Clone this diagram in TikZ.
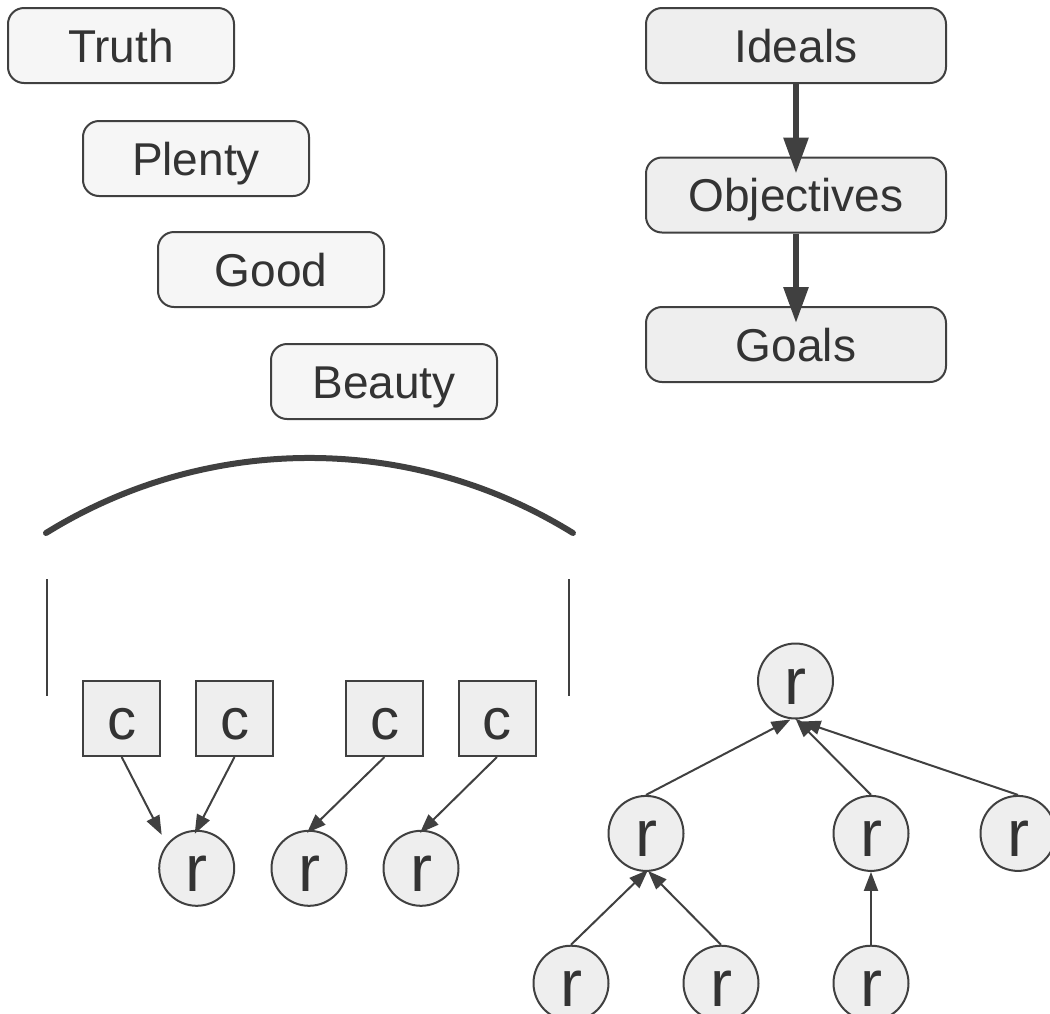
\documentclass[tikz,border=0pt]{standalone}
\usepackage{fontspec}
\setmainfont{Liberation Sans}
\usetikzlibrary{arrows.meta,calc}
\definecolor{linecol}{HTML}{404040}
\definecolor{textcol}{HTML}{333333}
\definecolor{softfill}{HTML}{F6F6F6}
\definecolor{greyfill}{HTML}{EEEEEE}
\tikzset{
  pill/.style={draw=linecol, line width=2pt, fill=softfill, rounded corners=16pt,
    minimum width=226pt, minimum height=75pt, inner sep=0pt, text=textcol,
    font=\fontsize{46}{46}\selectfont, text height=33pt, text depth=0pt},
  widepill/.style={pill, fill=greyfill, minimum width=300pt},
  cbox/.style={draw=linecol, line width=2pt, fill=greyfill, minimum width=77pt,
    minimum height=75pt, inner sep=0pt, text=textcol,
    font=\fontsize{58}{58}\selectfont, text height=41pt, text depth=0pt},
  rnode/.style={draw=linecol, line width=2pt, fill=greyfill, circle, minimum size=75pt,
    inner sep=0pt, text=textcol,
    font=\fontsize{66}{66}\selectfont, text height=47pt, text depth=0pt},
  thinarrow/.style={draw=linecol, line width=2pt, -{Triangle[length=19pt,width=14pt]}},
  thickarrow/.style={draw=linecol, line width=6pt, -{Triangle[length=36pt,width=24pt]}},
  freeline/.style={draw=linecol, line width=2pt}
}
\begin{document}
\begin{tikzpicture}[x=1pt,y=-1pt]
\useasboundingbox (0,0) rectangle (1050,1013);
% left column of rounded boxes
\node[pill] (truth) at (121,45.5) {Truth};
\node[pill] (plenty) at (196,158.5) {Plenty};
\node[pill] (good) at (271,269.5) {Good};
\node[pill] (beauty) at (384,381.5) {Beauty};
% right chain
\node[widepill] (ideals) at (796,45.5) {Ideals};
\node[widepill] (objectives) at (796,195) {Objectives};
\node[widepill] (goals) at (796,344.5) {Goals};
\draw[thickarrow] (ideals.south) -- ($(objectives.north)+(0,17)$);
\draw[thickarrow] (objectives.south) -- ($(goals.north)+(0,17)$);
% arc and side lines
\draw[draw=linecol, line width=6pt, line cap=round] (46,533) arc[start angle=-121.8, end angle=-58.2, radius=500];
\draw[freeline] (47,579) -- (47,696);
\draw[freeline] (569,579) -- (569,696);
% c boxes and r circles
\node[cbox] (c1) at (121.7,718.5) {c};
\node[cbox] (c2) at (234.5,718.5) {c};
\node[cbox] (c3) at (384.5,718.5) {c};
\node[cbox] (c4) at (497,718.5) {c};
\node[rnode] (r1) at (196.7,868.3) {r};
\node[rnode] (r2) at (309,868.3) {r};
\node[rnode] (r3) at (421,868.3) {r};
\draw[thinarrow] (c1.south) -- ($(r1.north)+(-35,5)$);
\draw[thinarrow] (c2.south) -- ($(r1.north)+(-2,4)$);
\draw[thinarrow] (c3.south) -- ($(r2.north)+(-2,3)$);
\draw[thinarrow] (c4.south) -- ($(r3.north)+(-1,3)$);
% right tree
\node[rnode] (top) at (795.5,681) {r};
\node[rnode] (ra) at (646,833.4) {r};
\node[rnode] (rb) at (871,833.4) {r};
\node[rnode] (rc) at (1018,833.4) {r};
\node[rnode] (b1) at (571,983.2) {r};
\node[rnode] (b2) at (721,983.2) {r};
\node[rnode] (b3) at (871,983.2) {r};
\draw[thinarrow] (ra.north) -- ($(top.south)+(-5,0)$);
\draw[thinarrow] (rb.north) -- ($(top.south)+(0,-1)$);
\draw[thinarrow] (rc.north) -- ($(top.south)+(6,2)$);
\draw[thinarrow] (b1.north) -- ($(ra.south)+(2,-2)$);
\draw[thinarrow] (b2.north) -- ($(ra.south)+(2,-1)$);
\draw[thinarrow] (b3.north) -- (rb.south);
\end{tikzpicture}
\end{document}
